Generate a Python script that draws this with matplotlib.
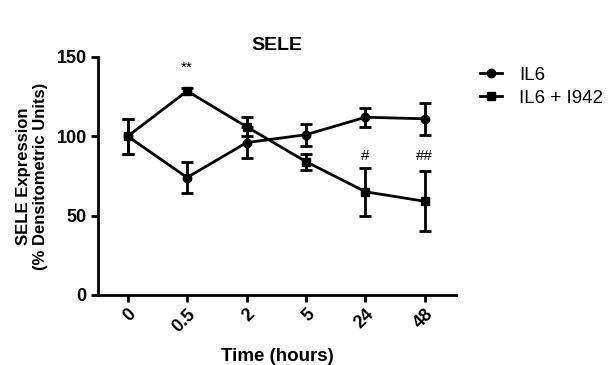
import numpy as np
import matplotlib.pyplot as plt
from matplotlib.lines import Line2D

plt.rcParams['font.family'] = ['Liberation Sans', 'DejaVu Sans']

# time points (categorical on the x axis)
time_labels = ["0", "0.5", "2", "5", "24", "48"]

# SELE expression, mean and error
il6_mean = [100, 74, 96, 101, 112, 111]
il6_err = [11, 10, 10, 7, 6, 10]
i942_mean = [100, 128.5, 106, 84, 65, 59]
i942_err = [11, 2, 6, 5, 15, 19]

# significance marks: (index, y, text)
sig_idx = [1, 4, 5]
sig_y = [139, 83, 83]
sig_txt = ["**", "#", "##"]

x = np.arange(len(time_labels))

fig = plt.figure(figsize=(6.16, 3.65), dpi=100)
ax = fig.add_axes([0.159, 0.192, 0.581, 0.652])

ax.errorbar(x, il6_mean, yerr=il6_err, color="black", marker="o", markersize=6,
            linewidth=2, elinewidth=2, capsize=4, capthick=2)
ax.errorbar(x, i942_mean, yerr=i942_err, color="black", marker="s", markersize=6,
            linewidth=2, elinewidth=2, capsize=4, capthick=2)

for i, yv, t in zip(sig_idx, sig_y, sig_txt):
    ax.text(x[i], yv, t, ha="center", va="bottom", fontsize=11)

ax.set_xlim(-0.5, 5.52)
ax.set_ylim(0, 150)
ax.set_yticks([0, 50, 100, 150])
ax.set_xticks(x)
ax.set_xticklabels(time_labels, rotation=45, ha="right", rotation_mode="anchor",
                   fontweight="bold", fontsize=13)
for lab in ax.get_yticklabels():
    lab.set_fontweight("bold")
    lab.set_fontsize(13)

for s in ["top", "right"]:
    ax.spines[s].set_visible(False)
for s in ["left", "bottom"]:
    ax.spines[s].set_linewidth(2)
ax.tick_params(width=2, length=5, pad=3)

ax.set_title("SELE", fontweight="bold", fontsize=14, pad=5)
ax.set_xlabel("Time (hours)", fontweight="bold", fontsize=13.5, labelpad=9)
ax.set_ylabel("SELE Expression\n(% Densitometric Units)", fontweight="bold", fontsize=12,
              labelpad=6)

handles = [Line2D([], [], color="black", marker="o", markersize=6, linewidth=2),
           Line2D([], [], color="black", marker="s", markersize=6, linewidth=2)]
ax.legend(handles, ["IL6", "IL6 + I942"], loc="upper left", bbox_to_anchor=(1.02, 1.03),
          frameon=False, fontsize=13.5, handlelength=1.2, handletextpad=0.9,
          labelspacing=0.3)

fig.savefig("out.png", dpi=100)
